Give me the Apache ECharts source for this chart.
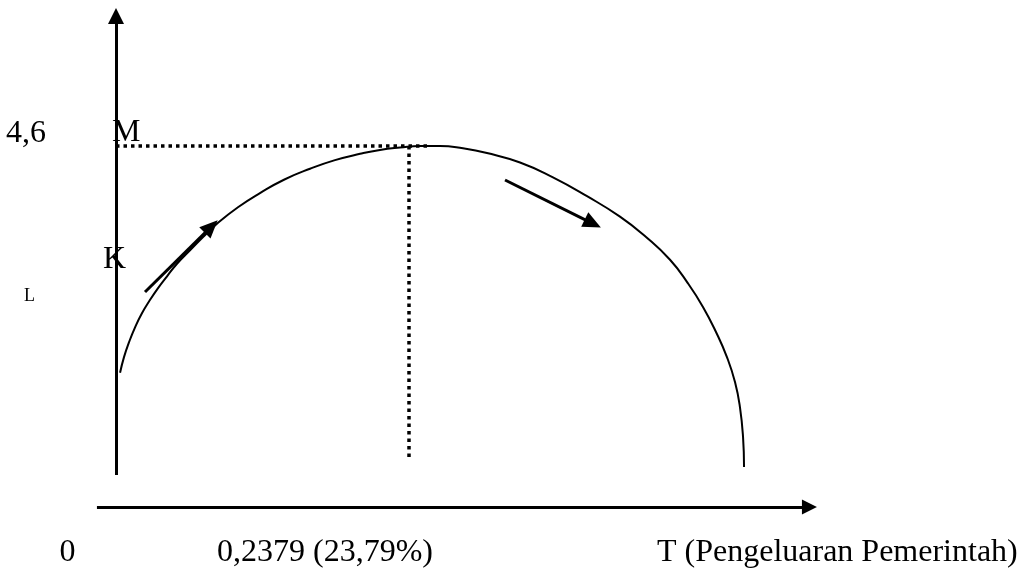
<!DOCTYPE html>
<html>
<head>
<meta charset="utf-8">
<script src="https://cdn.jsdelivr.net/npm/echarts@6/dist/echarts.min.js"></script>
<style>
html,body{margin:0;padding:0;background:#fff;}
#chart{width:1021px;height:574px;}
</style>
</head>
<body>
<div id="chart"></div>
<script>
// ---- data (T = government spending share, L = growth) ----
var curveT = [0.0033, 0.0065, 0.0106, 0.0155, 0.0211, 0.0277, 0.0342, 0.0415, 0.0496, 0.0602, 0.0708, 0.0821, 0.0992, 0.1171, 0.1366, 0.1578, 0.1781, 0.1985, 0.2147, 0.2310, 0.2473, 0.2635, 0.2822, 0.3017, 0.3286, 0.3554, 0.3831, 0.4099, 0.4311, 0.4506, 0.4652, 0.4774, 0.4880, 0.4969, 0.5035, 0.5075, 0.5100, 0.5108];
var curveL = [1.71, 1.91, 2.10, 2.29, 2.47, 2.64, 2.79, 2.94, 3.10, 3.27, 3.44, 3.61, 3.82, 4.00, 4.17, 4.31, 4.42, 4.50, 4.55, 4.58, 4.60, 4.60, 4.57, 4.51, 4.39, 4.20, 3.96, 3.70, 3.44, 3.15, 2.85, 2.55, 2.23, 1.91, 1.59, 1.27, 0.89, 0.51];
var optimumT = 0.2379;
var optimumL = 4.6;
var dottedEndT = 0.2554;
var dottedEndL = 0.599;
var yAxisLine = [[0, 0.408], [0, 6.257]];
var xAxisLine = [[-0.0155, 0], [0.5640, 0]];
var riseArrow = [[0.0236, 2.740], [0.0775, 3.573]];
var fallArrow = [[0.3164, 4.167], [0.3878, 3.612]];
var tickLabels = ['0', '0,2379 (23,79%)', 'T (Pengeluaran Pemerintah)'];
var yLabels = ['4,6', 'M', 'K', 'L'];

// ---- layout: map data units to the canvas ----
var X0PX = 116, XREFPX = 408.5, Y0PX = 507, YREFPX = 146, W = 1021, H = 574;
var kx = (XREFPX - X0PX) / optimumT;
var ky = (Y0PX - YREFPX) / optimumL;
var xMin = -X0PX / kx, xMax = (W - X0PX) / kx;
var yMin = -(H - Y0PX) / ky, yMax = Y0PX / ky;

var curveData = curveT.map(function (t, i) { return [t, curveL[i]]; });

function arrowLine(seg, head, width) {
  return [
    { coord: seg[0], symbol: 'none' },
    { coord: seg[1], symbol: 'triangle', symbolSize: head, lineStyle: { color: '#000', width: width, type: 'solid' } }
  ];
}
function dottedLine(a, b) {
  return [
    { coord: a, symbol: 'none', lineStyle: { color: '#000', width: 3.5, type: [3.5, 4], cap: 'butt' } },
    { coord: b, symbol: 'none' }
  ];
}

var serif = 'Liberation Serif';
function txt(s, x, y, size, align) {
  return { type: 'text', silent: true, style: { text: s, x: x, y: y, font: size + 'px "' + serif + '"', fill: '#000', textAlign: align || 'left', textVerticalAlign: 'middle' } };
}

var chart = echarts.init(document.getElementById('chart'));
chart.setOption({
  animation: false,
  backgroundColor: '#fff',
  grid: { left: 0, right: 0, top: 0, bottom: 0, containLabel: false },
  xAxis: { type: 'value', min: xMin, max: xMax, show: false },
  yAxis: { type: 'value', min: yMin, max: yMax, show: false },
  series: [
    {
      type: 'line',
      data: curveData,
      smooth: 0.5,
      symbol: 'none',
      lineStyle: { color: '#000', width: 2 },
      silent: true
    },
    {
      type: 'line',
      data: [],
      silent: true,
      markLine: {
        silent: true,
        animation: false,
        label: { show: false },
        emphasis: { disabled: true },
        lineStyle: { color: '#000', width: 3, type: 'solid' },
        data: [
          arrowLine(yAxisLine, [16, 16], 3),
          arrowLine(xAxisLine, [15, 15], 3),
          arrowLine(riseArrow, [16, 18], 3),
          arrowLine(fallArrow, [16, 18], 3),
          dottedLine([0, optimumL], [dottedEndT, optimumL]),
          dottedLine([optimumT, optimumL], [optimumT, dottedEndL])
        ]
      }
    }
  ],
  graphic: [
    txt(yLabels[0], 6, 134, 32),
    txt(yLabels[1], 112, 133, 32),
    txt(yLabels[2], 103, 260, 32),
    txt(yLabels[3], 24, 296, 18),
    txt(tickLabels[0], 67.5, 553, 32, 'center'),
    txt(tickLabels[1], 217, 553, 32),
    txt(tickLabels[2], 657, 553, 32)
  ]
});
</script>
</body>
</html>
